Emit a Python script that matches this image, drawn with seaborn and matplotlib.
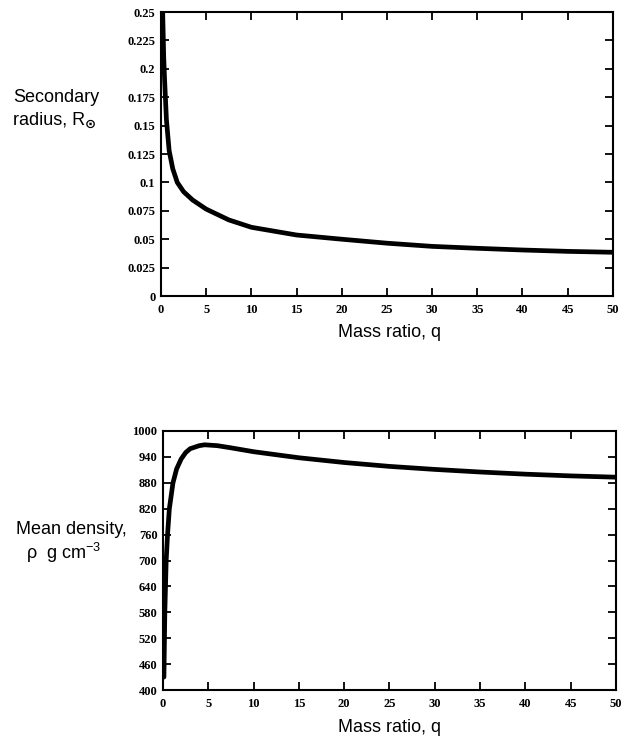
import numpy as np
import pandas as pd
import seaborn as sns
import matplotlib
matplotlib.use("Agg")
import matplotlib.pyplot as plt

# Data
q_radius = [0.12, 0.2, 0.3, 0.4, 0.6, 0.9, 1.3, 1.8, 2.5, 3.5, 5, 7.5, 10, 15, 20, 25, 30, 35, 40, 45, 50]
radius = [0.27, 0.245, 0.21, 0.19, 0.155, 0.128, 0.112, 0.100, 0.0918, 0.0845, 0.0765, 0.067, 0.0605,
          0.0537, 0.050, 0.0465, 0.0437, 0.042, 0.0405, 0.0393, 0.0385]

q_density = [0.1, 0.2, 0.35, 0.5, 0.7, 1.1, 1.5, 2.0, 2.5, 3.0, 4.0, 4.6, 6.0, 7.5, 10, 15, 20, 25, 30, 35, 40, 45, 50]
density = [430, 580, 700, 760, 820, 880, 912, 935, 950, 959, 966, 968, 966, 961, 952, 938, 927, 918, 911, 905, 900, 896, 893]

x_ticks = [0, 5, 10, 15, 20, 25, 30, 35, 40, 45, 50]
r_ticks = [0, 0.025, 0.05, 0.075, 0.1, 0.125, 0.15, 0.175, 0.2, 0.225, 0.25]
r_tick_labels = ["0", "0.025", "0.05", "0.075", "0.1", "0.125", "0.15", "0.175", "0.2", "0.225", "0.25"]
d_ticks = [400, 460, 520, 580, 640, 700, 760, 820, 880, 940, 1000]

sns.set_style("ticks")
plt.rcParams["font.family"] = ["Liberation Sans", "DejaVu Sans"]
plt.rcParams["mathtext.fontset"] = "custom"
plt.rcParams["mathtext.rm"] = "Liberation Sans"
plt.rcParams["mathtext.it"] = "Liberation Sans"
plt.rcParams["text.color"] = "black"
plt.rcParams["xtick.color"] = "black"
plt.rcParams["ytick.color"] = "black"
plt.rcParams["axes.labelcolor"] = "black"

fig = plt.figure(figsize=(6.26, 7.38), dpi=100)
ax1 = fig.add_axes([0.2572, 0.5989, 0.7218, 0.3848])
ax2 = fig.add_axes([0.2604, 0.065, 0.7236, 0.351])

df_r = pd.DataFrame({"q": q_radius, "r": radius})
df_d = pd.DataFrame({"q": q_density, "d": density})

sns.lineplot(data=df_r, x="q", y="r", ax=ax1, color="black", linewidth=3.4)
sns.lineplot(data=df_d, x="q", y="d", ax=ax2, color="black", linewidth=3.4)

tick_font = dict(family="Liberation Serif", weight="bold", size=9, color="black")

for ax in (ax1, ax2):
    ax.set_xlim(0, 50)
    ax.set_xticks(x_ticks)
    ax.set_xticklabels([str(t) for t in x_ticks], fontdict=tick_font)
    ax.tick_params(direction="in", top=True, right=True, length=6, width=1.3, pad=6,
                   color="black", labelcolor="black")
    for s in ax.spines.values():
        s.set_linewidth(1.5)
        s.set_color("black")
    ax.set_xlabel("")
    ax.set_ylabel("")

ax1.set_ylim(0, 0.25)
ax1.set_yticks(r_ticks)
ax1.set_yticklabels(r_tick_labels, fontdict=tick_font)

ax2.set_ylim(400, 1000)
ax2.set_yticks(d_ticks)
ax2.set_yticklabels([str(t) for t in d_ticks], fontdict=tick_font)

ax1.tick_params(axis="y", pad=4)
ax2.tick_params(axis="y", pad=4)

label_font = dict(family="Liberation Sans", size=13, color="black")
fig.text(390 / 626, 1 - 333 / 738, "Mass ratio, q", ha="center", va="center", **label_font)
fig.text(390 / 626, 1 - 727 / 738, "Mass ratio, q", ha="center", va="center", **label_font)

fig.text(13 / 626, 1 - 97 / 738, "Secondary", ha="left", va="center", **label_font)
fig.text(13 / 626, 1 - 120 / 738, "radius, R", ha="left", va="center", **label_font)
fig.text(85 / 626, 1 - 124 / 738, "⊙", ha="left", va="center", family="DejaVu Sans",
         size=9.5, weight="bold", color="black")

fig.text(16 / 626, 1 - 530 / 738, "Mean density,", ha="left", va="center", **label_font)
fig.text(26 / 626, 1 - 553 / 738, r"ρ  g cm$^{-3}$", ha="left", va="center", **label_font)

fig.savefig("out.png", dpi=100, facecolor="white")
